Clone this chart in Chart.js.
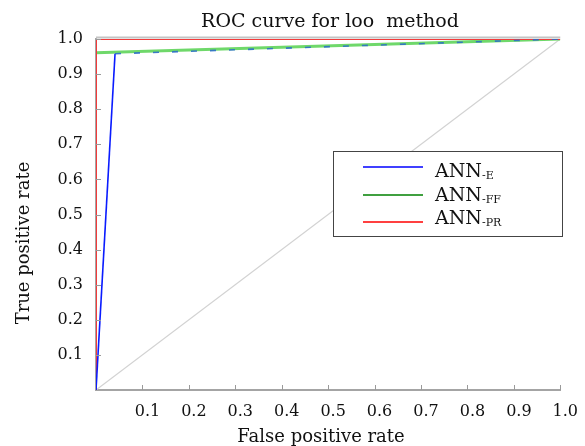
<!DOCTYPE html>
<html>
<head>
<meta charset="utf-8">
<script src="https://cdn.jsdelivr.net/npm/chart.js@4.4.1/dist/chart.umd.min.js"></script>
<style>
  html, body { margin: 0; padding: 0; background: #fff; }
  #wrap { width: 585px; height: 446px; position: relative; }
</style>
</head>
<body>
<div id="wrap"><canvas id="rocChart"></canvas></div>
<script>
// ROC points (x = false positive rate, y = true positive rate)
let chanceX = [0, 1];
let chanceY = [0, 1];
let annEX = [0, 0.041, 1];
let annEY = [0, 0.958, 1];
let annFFX = [0, 1];
let annFFY = [0.961, 1];
let annPRX = [0, 0, 1];
let annPRY = [0, 1, 1];

let xTickLabels = ["", "0.1", "0.2", "0.3", "0.4", "0.5", "0.6", "0.7", "0.8", "0.9", "1.0"];
let yTickLabels = ["", "0.1", "0.2", "0.3", "0.4", "0.5", "0.6", "0.7", "0.8", "0.9", "1.0"];

let legendNames = ["ANN", "ANN", "ANN"];
let legendSubs = ["-E", "-FF", "-PR"];
let legendColors = ["#0000ff", "#008000", "#ff0000"];

function toPoints(xs, ys) {
  return xs.map(function (x, i) { return { x: x, y: ys[i] }; });
}

const SERIF = "'DejaVu Serif', 'Liberation Serif', serif";

// draws the in-plot tick marks, the top frame line, the titles and the legend box
const decorations = {
  id: "decorations",
  afterDatasetsDraw: function (chart) {
    const ctx = chart.ctx;
    const area = chart.chartArea;
    const xs = chart.scales.x;
    const ys = chart.scales.y;
    ctx.save();
    ctx.setLineDash([]);
    ctx.strokeStyle = "#9a9a9a";
    ctx.lineWidth = 1;
    for (let v = 1; v <= 10; v++) {
      let px = Math.round(xs.getPixelForValue(v / 10)) + 0.5;
      ctx.beginPath();
      ctx.moveTo(px, area.bottom);
      ctx.lineTo(px, area.bottom - 5);
      ctx.stroke();
      let py = Math.round(ys.getPixelForValue(v / 10)) + 0.5;
      ctx.beginPath();
      ctx.moveTo(area.left, py);
      ctx.lineTo(area.left + 5, py);
      ctx.stroke();
    }
    // top frame
    ctx.strokeStyle = "#c4c4c4";
    ctx.lineWidth = 2;
    ctx.beginPath();
    ctx.moveTo(area.left, area.top - 1.5);
    ctx.lineTo(area.right, area.top - 1.5);
    ctx.stroke();

    // titles
    ctx.fillStyle = "#111";
    ctx.textAlign = "center";
    ctx.textBaseline = "alphabetic";
    ctx.font = "19px " + SERIF;
    ctx.fillText("ROC curve for loo  method", 330, 27);
    ctx.font = "18px " + SERIF;
    ctx.fillText("False positive rate", 321, 442);
    ctx.save();
    ctx.translate(29, 243);
    ctx.rotate(-Math.PI / 2);
    ctx.fillText("True positive rate", 0, 0);
    ctx.restore();

    // legend
    const bx = 333, by = 151, bw = 229, bh = 85;
    ctx.fillStyle = "#fff";
    ctx.fillRect(bx, by, bw, bh);
    ctx.strokeStyle = "#444";
    ctx.lineWidth = 1;
    ctx.strokeRect(bx + 0.5, by + 0.5, bw, bh);
    const lineY = [167, 195, 222];
    const textY = [177, 201, 224];
    ctx.textAlign = "left";
    for (let i = 0; i < legendNames.length; i++) {
      ctx.strokeStyle = legendColors[i];
      ctx.lineWidth = 1.5;
      ctx.beginPath();
      ctx.moveTo(363, lineY[i]);
      ctx.lineTo(423, lineY[i]);
      ctx.stroke();
      ctx.fillStyle = "#111";
      ctx.font = "19px " + SERIF;
      ctx.fillText(legendNames[i], 435, textY[i]);
      let w = ctx.measureText(legendNames[i]).width;
      ctx.font = "11px " + SERIF;
      ctx.fillText(legendSubs[i], 435 + w, textY[i] + 2);
    }
    ctx.restore();
  }
};

const data = {
  datasets: [
    {
      label: "ANN-E",
      data: toPoints(annEX, annEY),
      borderColor: "#0a1cff",
      borderWidth: 1.6,
      segment: {
        borderDash: function (c) { return c.p0DataIndex === 1 ? [6, 13] : undefined; },
        borderColor: function (c) { return c.p0DataIndex === 1 ? "rgba(45,110,200,0.9)" : undefined; }
      },
      order: 1
    },
    {
      label: "ANN-FF",
      data: toPoints(annFFX, annFFY),
      borderColor: "#6fd86a",
      borderWidth: 3,
      order: 3
    },
    {
      label: "ANN-PR",
      data: toPoints(annPRX, annPRY),
      borderColor: "#f23a3a",
      borderWidth: 2,
      order: 2
    },
    {
      label: "chance",
      data: toPoints(chanceX, chanceY),
      borderColor: "#d2d2d2",
      borderWidth: 1.2,
      order: 4
    }
  ]
};

const config = {
  type: "scatter",
  data: data,
  options: {
    responsive: false,
    animation: false,
    showLine: true,
    elements: { point: { radius: 0, hoverRadius: 0 }, line: { tension: 0 } },
    layout: { padding: { top: 39, right: 23, left: 0, bottom: 0 } },
    plugins: {
      legend: { display: false },
      title: { display: false },
      tooltip: { enabled: false }
    },
    scales: {
      x: {
        type: "linear",
        min: 0,
        max: 1,
        afterFit: function (s) { s.height = 56; },
        grid: { drawOnChartArea: false, drawTicks: false },
        border: { color: "#a4a4a4", width: 2 },
        ticks: {
          stepSize: 0.1,
          padding: 12,
          labelOffset: 5,
          maxRotation: 0,
          color: "#111",
          font: { family: SERIF, size: 16 },
          callback: function (v, i) { return xTickLabels[i]; }
        }
      },
      y: {
        type: "linear",
        min: 0,
        max: 1,
        afterFit: function (s) { s.width = 96; },
        grid: { drawOnChartArea: false, drawTicks: false },
        border: { color: "#a4a4a4", width: 2 },
        ticks: {
          stepSize: 0.1,
          padding: 13,
          color: "#111",
          font: { family: SERIF, size: 16 },
          callback: function (v, i) { return yTickLabels[i]; }
        }
      }
    }
  },
  plugins: [decorations]
};

const canvas = document.getElementById("rocChart");
canvas.width = 585;
canvas.height = 446;
const rocChart = new Chart(canvas, config);
</script>
</body>
</html>
